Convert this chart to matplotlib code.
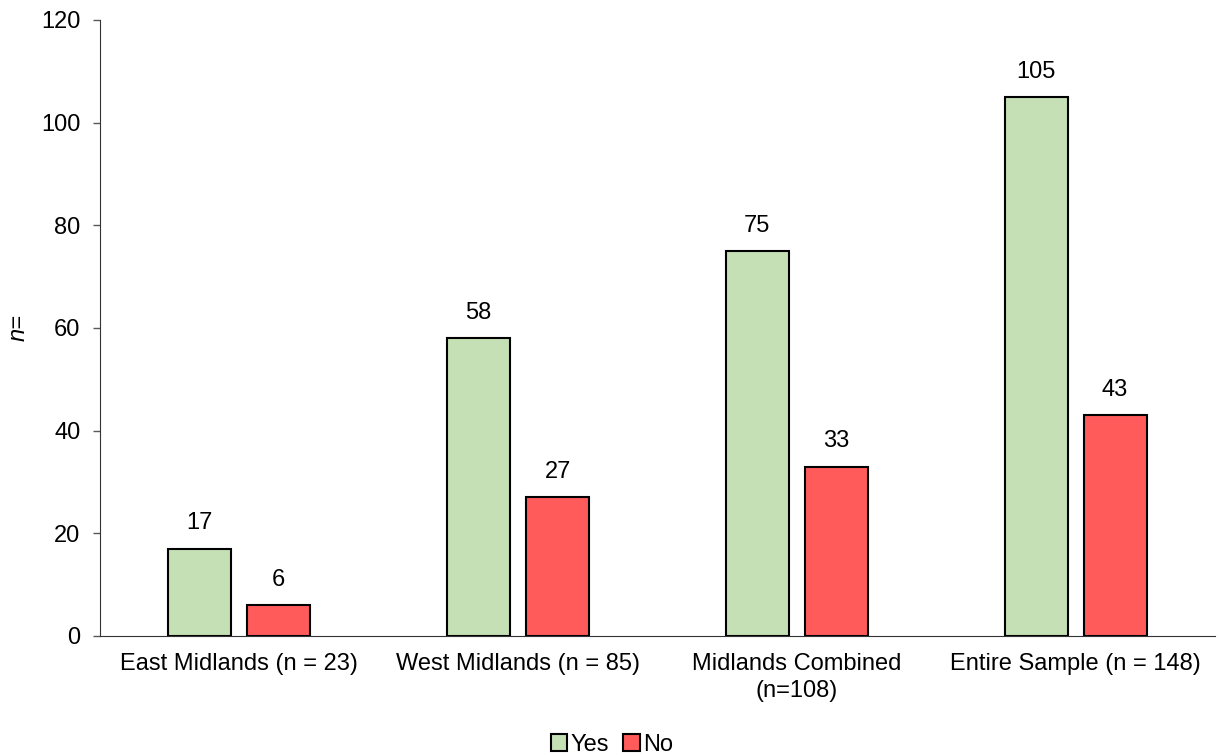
import numpy as np
import matplotlib.pyplot as plt
from matplotlib.patches import Patch

categorias = ['East Midlands (n = 23)', 'West Midlands (n = 85)',
              'Midlands Combined\n(n=108)', 'Entire Sample (n = 148)']
sim = [17, 58, 75, 105]
nao = [6, 27, 33, 43]

plt.rcParams['font.family'] = ['Liberation Sans', 'DejaVu Sans']

cor_sim = '#C5E0B4'
cor_nao = '#FF5B5B'

fig = plt.figure(figsize=(12.19, 7.56), dpi=100)
ax = fig.add_axes([100 / 1219, 1 - 636 / 756, 1115 / 1219, 616 / 756])

x = np.arange(len(categorias))
w = 0.226
off = 0.1417
b1 = ax.bar(x - off, sim, w, color=cor_sim, edgecolor='black', linewidth=1.5)
b2 = ax.bar(x + off, nao, w, color=cor_nao, edgecolor='black', linewidth=1.5)

for barras, vals in [(b1, sim), (b2, nao)]:
    for b, v in zip(barras, vals):
        ax.text(b.get_x() + b.get_width() / 2, v + 2.8, str(v),
                ha='center', va='bottom', fontsize=17)

ax.set_xlim(-0.5, len(categorias) - 0.5)
ax.set_ylim(0, 120)
ax.set_yticks(range(0, 121, 20))
ax.set_xticks(x)
ax.set_xticklabels(categorias, fontsize=17, linespacing=1.3)
ax.tick_params(axis='y', labelsize=17, length=5, width=1, color='#595959', pad=9)
ax.tick_params(axis='x', length=0, pad=12)
ax.spines['top'].set_visible(False)
ax.spines['right'].set_visible(False)
ax.spines['left'].set_color('#333333')
ax.spines['bottom'].set_color('#333333')
ax.set_ylabel('n=', fontsize=17, style='italic')
ax.yaxis.set_label_coords(-0.063, 0.5)

handles = [Patch(facecolor=cor_sim, edgecolor='black', linewidth=1.5, label='Yes'),
           Patch(facecolor=cor_nao, edgecolor='black', linewidth=1.5, label='No')]
fig.legend(handles=handles, loc='center', bbox_to_anchor=(612 / 1219, 1 - 745 / 756),
           ncol=2, frameon=False, fontsize=17, handlelength=0.7, handleheight=0.7,
           handletextpad=0.15, columnspacing=0.6)

plt.savefig('out.png', dpi=100)
